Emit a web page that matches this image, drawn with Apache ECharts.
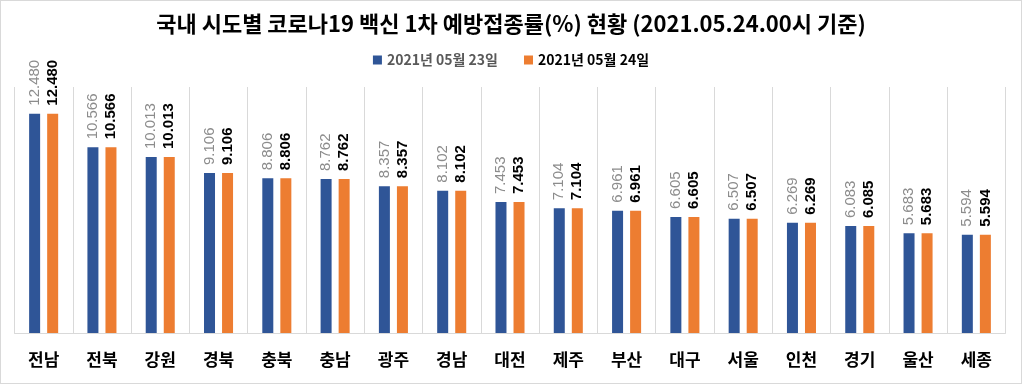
<!DOCTYPE html>
<html><head><meta charset="utf-8">
<script src="https://cdn.jsdelivr.net/npm/echarts@6/dist/echarts.min.js"></script>
<style>html,body{margin:0;padding:0;background:#fff}#c{width:1020px;height:382px;border:1px solid #d9d9d9}</style>
</head><body><div id="c"></div>
<script>
const categories = ['전남','전북','강원','경북','충북','충남','광주','경남','대전','제주','부산','대구','서울','인천','경기','울산','세종'];
const seriesNames = ['2021년 05월 23일','2021년 05월 24일'];
const values0523 = [12.480,10.566,10.013,9.106,8.806,8.762,8.357,8.102,7.453,7.104,6.961,6.605,6.507,6.269,6.083,5.683,5.594];
const values0524 = [12.480,10.566,10.013,9.106,8.806,8.762,8.357,8.102,7.453,7.104,6.961,6.605,6.507,6.269,6.085,5.683,5.594];
const titleText = '국내 시도별 코로나19 백신 1차 예방접종률(%) 현황 (2021.05.24.00시 기준)';

const chart = echarts.init(document.getElementById('c'));
const fmt = p => p.value.toFixed(3);
chart.setOption({
  animation:false,
  title:{text:titleText,left:'center',top:7,textStyle:{fontFamily:'Noto Sans CJK KR',fontWeight:'bold',fontSize:22,color:'#000'}},
  legend:{top:47,left:'center',icon:'rect',itemWidth:9,itemHeight:9,itemGap:26,
    data:[{name:seriesNames[0],textStyle:{color:'#595959'}},{name:seriesNames[1],textStyle:{color:'#000'}}],
    textStyle:{fontFamily:'Noto Sans CJK KR',fontWeight:'bold',fontSize:14}},
  grid:{left:13.5,right:15.5,top:86,bottom:50},
  xAxis:{type:'category',data:categories,
    axisLine:{lineStyle:{color:'#d9d9d9'}},axisTick:{show:false},
    splitLine:{show:true,interval:0,lineStyle:{color:'#d9d9d9'}},
    axisLabel:{interval:0,margin:18,color:'#000',fontFamily:'Noto Sans CJK KR',fontWeight:'bold',fontSize:17}},
  yAxis:{type:'value',min:0,max:14,show:false,splitLine:{show:false}},
  series:[
    {name:seriesNames[0],type:'bar',data:values0523,barWidth:11,barGap:'64%',itemStyle:{color:'#2F5597'},
     label:{show:true,position:'top',rotate:90,align:'left',verticalAlign:'middle',distance:8,formatter:fmt,color:'#8c8c8c',fontFamily:'Liberation Sans',fontSize:15}},
    {name:seriesNames[1],type:'bar',data:values0524,barWidth:11,itemStyle:{color:'#ED7D31'},
     label:{show:true,position:'top',rotate:90,align:'left',verticalAlign:'middle',distance:8,formatter:fmt,color:'#000',fontFamily:'Liberation Sans',fontWeight:'bold',fontSize:15}}
  ]
});
</script></body></html>
